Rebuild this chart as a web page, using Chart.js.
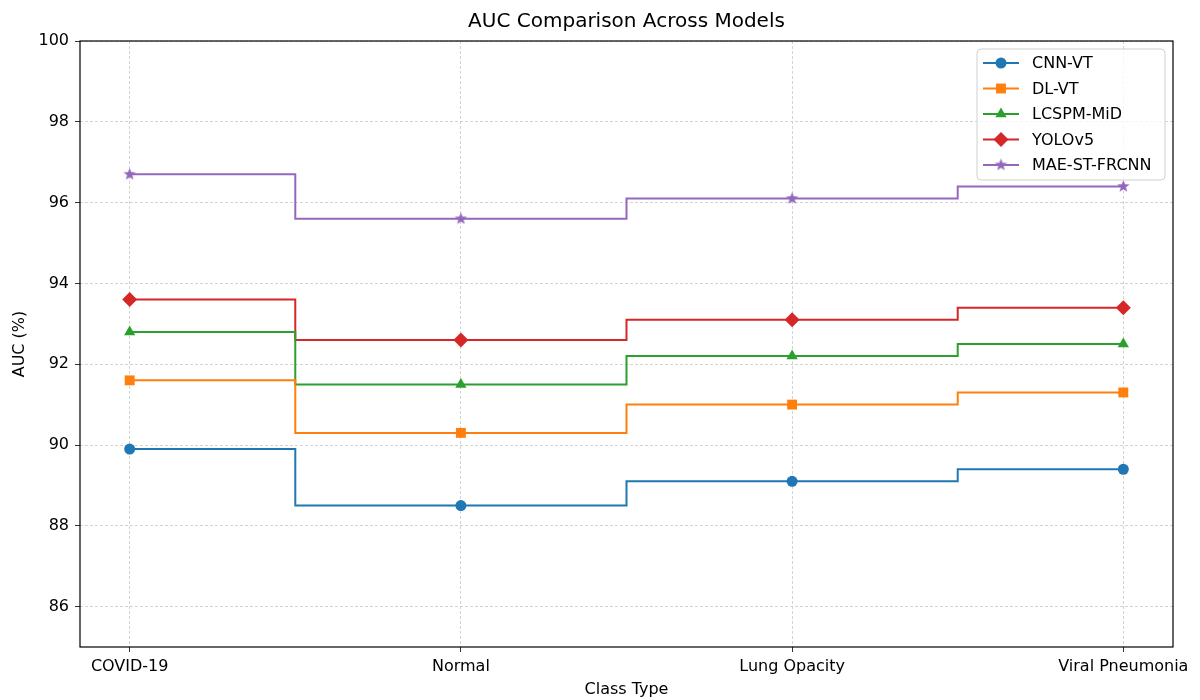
<!DOCTYPE html>
<html>
<head>
<meta charset="utf-8">
<script src="https://cdn.jsdelivr.net/npm/chart.js@4/dist/chart.umd.min.js"></script>
<style>
  html, body { margin: 0; padding: 0; background: #fff; }
  #wrap { width: 1200px; height: 700px; }
</style>
</head>
<body>
<div id="wrap"><canvas id="c" width="1200" height="700"></canvas></div>
<script>
const categories = ['COVID-19', 'Normal', 'Lung Opacity', 'Viral Pneumonia'];
const seriesNames = ['CNN-VT', 'DL-VT', 'LCSPM-MiD', 'YOLOv5', 'MAE-ST-FRCNN'];
const cnnVT = [89.9, 88.5, 89.1, 89.4];
const dlVT = [91.6, 90.3, 91.0, 91.3];
const lcspm = [92.8, 91.5, 92.2, 92.5];
const yolo = [93.6, 92.6, 93.1, 93.4];
const maeST = [96.7, 95.6, 96.1, 96.4];
const yTicks = [86, 88, 90, 92, 94, 96, 98, 100];

const colors = ['#1f77b4', '#ff7f0e', '#2ca02c', '#d62728', '#9467bd'];
const FONT = "'DejaVu Sans', sans-serif";

// filled star marker like matplotlib '*'
function makeStar(color, r) {
  const c = document.createElement('canvas');
  const s = Math.ceil(r * 2 + 2);
  c.width = s; c.height = s;
  const g = c.getContext('2d');
  g.beginPath();
  for (let i = 0; i < 10; i++) {
    const rad = i % 2 === 0 ? r : r * 0.42;
    const a = -Math.PI / 2 + i * Math.PI / 5;
    const px = s / 2 + rad * Math.cos(a), py = s / 2 + rad * Math.sin(a);
    if (i === 0) g.moveTo(px, py); else g.lineTo(px, py);
  }
  g.closePath();
  g.fillStyle = color;
  g.fill();
  return c;
}

const starImg = makeStar(colors[4], 6.5);
const styles = ['circle', 'rect', 'triangle', 'rectRot', starImg];
const radii = [5.5, 7, 6.5, 7.5, 6];
const allValues = [cnnVT, dlVT, lcspm, yolo, maeST];

const datasets = allValues.map(function(vals, i) {
  return {
    label: seriesNames[i],
    data: vals.map(function(v, j) { return { x: j, y: v }; }),
    borderColor: colors[i],
    backgroundColor: colors[i],
    borderWidth: 2,
    stepped: 'middle',
    pointStyle: styles[i],
    pointRadius: radii[i],
    pointBorderWidth: 0,
    pointHoverRadius: radii[i]
  };
});

const framePlugin = {
  id: 'frame',
  afterDraw(chart) {
    const ctx = chart.ctx, a = chart.chartArea;
    ctx.save();
    ctx.strokeStyle = '#000';
    ctx.lineWidth = 1.2;
    ctx.strokeRect(a.left, a.top, a.right - a.left, a.bottom - a.top);

    // title
    ctx.fillStyle = '#000';
    ctx.font = '20px ' + FONT;
    ctx.textAlign = 'center';
    ctx.textBaseline = 'middle';
    ctx.fillText('AUC Comparison Across Models', (a.left + a.right) / 2, 22);

    // legend
    const bx = 977, by = 49, bw = 188, bh = 131;
    ctx.fillStyle = 'rgba(255,255,255,0.8)';
    ctx.strokeStyle = '#d0d0d0';
    ctx.lineWidth = 1;
    ctx.beginPath();
    ctx.roundRect(bx, by, bw, bh, 4);
    ctx.fill();
    ctx.stroke();
    ctx.font = '16px ' + FONT;
    ctx.textAlign = 'left';
    seriesNames.forEach(function(name, i) {
      const y = 63 + i * 25.5;
      ctx.strokeStyle = colors[i];
      ctx.lineWidth = 2;
      ctx.beginPath();
      ctx.moveTo(983, y);
      ctx.lineTo(1019, y);
      ctx.stroke();
      ctx.fillStyle = colors[i];
      Chart.helpers.drawPoint(ctx, { pointStyle: styles[i], radius: radii[i], borderWidth: 0, rotation: 0 }, 1001, y);
      ctx.fillStyle = '#000';
      ctx.fillText(name, 1032, y + 1);
    });
    ctx.restore();
  }
};

new Chart(document.getElementById('c'), {
  type: 'line',
  data: { datasets: datasets },
  plugins: [framePlugin],
  options: {
    responsive: false,
    animation: false,
    layout: { padding: { top: 41, right: 27, left: 0, bottom: 0 } },
    plugins: {
      legend: { display: false },
      title: { display: false },
      tooltip: { enabled: false }
    },
    scales: {
      x: {
        type: 'linear',
        min: -0.15,
        max: 3.15,
        afterBuildTicks(scale) { scale.ticks = [0, 1, 2, 3].map(function(v) { return { value: v }; }); },
        afterFit(scale) { scale.height = 53; },
        ticks: {
          color: '#000',
          font: { family: FONT, size: 16 },
          maxRotation: 0,
          padding: 5,
          callback: function(v) { return categories[v]; }
        },
        grid: { color: '#c8c8c8', lineWidth: 0.8, tickColor: '#000', tickLength: 5, drawOnChartArea: true },
        border: { display: false, dash: [3, 2] },
        title: { display: true, text: 'Class Type', color: '#000', font: { family: FONT, size: 16 }, padding: { top: 0, bottom: 1 } }
      },
      y: {
        min: 85,
        max: 100,
        afterBuildTicks(scale) { scale.ticks = yTicks.map(function(v) { return { value: v }; }); },
        afterFit(scale) { scale.width = 80; },
        ticks: { color: '#000', font: { family: FONT, size: 16 }, padding: 6 },
        grid: { color: '#c8c8c8', lineWidth: 0.8, tickColor: '#000', tickLength: 5 },
        border: { display: false, dash: [3, 2] },
        title: { display: true, text: 'AUC (%)', color: '#000', font: { family: FONT, size: 16 }, padding: { top: 10, bottom: 0 } }
      }
    }
  }
});
</script>
</body>
</html>
